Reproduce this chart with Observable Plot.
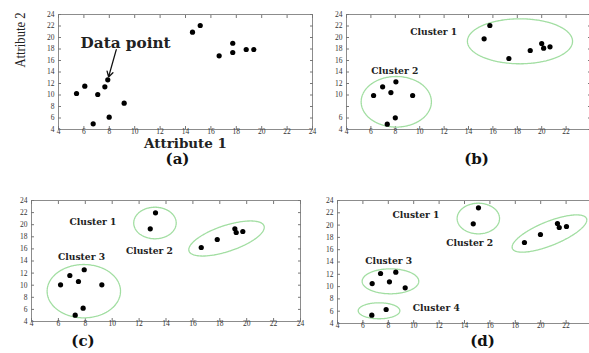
<!DOCTYPE html>
<html><head><meta charset="utf-8">
<script src="https://cdn.jsdelivr.net/npm/d3@7"></script>
<script src="https://cdn.jsdelivr.net/npm/@observablehq/plot@0.6"></script>
<style>
body{margin:0;background:#fff;}
#wrap{position:relative;width:589px;height:353px;overflow:hidden;background:#fff;}
#wrap svg{position:absolute;left:0;top:0;}
</style></head><body><div id="wrap"></div>
<script>
// tick values (both axes)
const ticks = [4, 6, 8, 10, 12, 14, 16, 18, 20, 22, 24];

// Panel (a)
const aX = [5.42, 6.07, 6.73, 7.09, 7.65, 7.88, 7.99, 9.17, 14.55, 15.16, 16.65, 17.72, 17.72, 18.78, 19.38];
const aY = [10.26, 11.53, 4.99, 10.09, 11.43, 12.64, 6.14, 8.57, 20.92, 22.09, 16.82, 19.0, 17.39, 17.91, 17.91];
// Panel (b)
const bX = [15.28, 15.75, 17.31, 19.06, 20.0, 20.16, 20.68, 6.22, 6.96, 7.64, 8.05, 7.34, 8.0, 9.42];
const bY = [19.77, 22.09, 16.35, 17.74, 18.96, 18.14, 18.38, 9.91, 11.43, 10.43, 12.3, 4.92, 6.03, 9.91];
// Panel (c)
const cX = [13.22, 12.83, 16.62, 17.81, 19.12, 19.22, 19.71, 6.16, 6.85, 7.49, 7.92, 9.23, 7.84, 7.25];
const cY = [21.97, 19.32, 16.23, 17.55, 19.32, 18.71, 18.88, 10.07, 11.6, 10.61, 12.55, 10.07, 6.21, 5.04];
// Panel (d)
const dX = [15.1, 14.69, 18.72, 19.98, 21.32, 21.46, 22.03, 6.73, 7.39, 8.09, 8.59, 9.33, 6.7, 7.83];
const dY = [22.81, 20.21, 17.17, 18.47, 20.26, 19.61, 19.77, 10.5, 12.13, 10.78, 12.34, 9.8, 5.35, 6.28];

// cluster outlines: centre and two semi-axis vectors (data units)
const ellB = [
  {cx: 18.22, cy: 19.34, ux: 4.31, uy: 0, vx: 0, vy: 3.91},
  {cx: 8.08, cy: 8.82, ux: 2.88, uy: 0, vx: 0, vy: 4.4}
];
const ellC = [
  {cx: 13.18, cy: 20.28, ux: 1.58, uy: 0, vx: 0, vy: 2.61},
  {cx: 18.5, cy: 17.72, ux: 2.79, uy: 2.07, vx: 0.30, vy: -2.03},
  {cx: 7.89, cy: 9.01, ux: 2.73, uy: 0, vx: 0, vy: 4.41}
];
const ellD = [
  {cx: 15.09, cy: 21.07, ux: 1.67, uy: 0, vx: 0, vy: 2.49},
  {cx: 20.69, cy: 18.63, ux: 2.92, uy: 2.44, vx: 0.354, vy: -1.80},
  {cx: 8.17, cy: 10.86, ux: 2.23, uy: 0, vx: 0, vy: 2.03},
  {cx: 7.27, cy: 6.07, ux: 1.64, uy: 0, vx: 0, vy: 1.3}
];

// cluster labels
const labB = [{t: "Cluster 1", x: 11.15, y: 20.92}, {t: "Cluster 2", x: 7.96, y: 14.14}];
const labC = [{t: "Cluster 1", x: 8.57, y: 20.53}, {t: "Cluster 2", x: 12.77, y: 15.62}, {t: "Cluster 3", x: 7.72, y: 14.63}];
const labD = [{t: "Cluster 1", x: 10.18, y: 21.67}, {t: "Cluster 2", x: 14.41, y: 17.17}, {t: "Cluster 3", x: 8.03, y: 14.13}, {t: "Cluster 4", x: 11.78, y: 6.49}];

// annotation in (a)
const dataPointLabel = [{t: "Data point", x: 9.28, y: 18.9}];
const dataPointArrow = [{x1: 8.55, y1: 17.9, x2: 7.88, y2: 12.64}];

const W = 600, H = 353;
const serif = "'DejaVu Serif', serif";

function ring(ells) {
  return ells.flatMap((e, k) => d3.range(0, 97).map(i => {
    const t = i / 96 * 2 * Math.PI;
    return {k, x: e.cx + e.ux * Math.cos(t) + e.vx * Math.sin(t), y: e.cy + e.uy * Math.cos(t) + e.vy * Math.sin(t)};
  }));
}

function panel({frame: [l, r, t, b], xs, ys, ells = [], labels = [], caption, capDx, capDy, hideY = [], hideX = [], extra = []}) {
  const pts = xs.map((x, i) => ({x, y: ys[i]}));
  return Plot.plot({
    width: W, height: H,
    marginLeft: l, marginRight: W - r, marginTop: t, marginBottom: H - b,
    x: {domain: [4, 24]}, y: {domain: [4, 24]},
    style: {fontFamily: "'Liberation Serif', serif", fontSize: "7.5px", color: "#333", background: "transparent", maxWidth: "none", overflow: "visible"},
    marks: [
      Plot.frame({stroke: "#8c8c8c"}),
      Plot.axisX(ticks, {anchor: "bottom", label: null, tickSize: -3, tickPadding: 2, stroke: "#777", fill: "#333", tickFormat: d => hideX.includes(d) ? "" : String(d)}),
      Plot.axisX(ticks, {anchor: "top", label: null, tickSize: -3, tickFormat: () => "", stroke: "#777"}),
      Plot.axisY(ticks, {anchor: "left", label: null, tickSize: -3, tickPadding: 7, stroke: "#777", fill: "#333", tickFormat: d => hideY.includes(d) ? "" : String(d)}),
      Plot.axisY(ticks, {anchor: "right", label: null, tickSize: -3, tickFormat: () => "", stroke: "#777"}),
      Plot.line(ring(ells), {x: "x", y: "y", z: "k", stroke: "#a2dea2", strokeWidth: 1.3, strokeDasharray: "1.6 0.7"}),
      Plot.dot(pts, {x: "x", y: "y", r: 2.6, fill: "#000"}),
      Plot.text(labels, {x: "x", y: "y", text: "t", fontFamily: serif, fontWeight: "bold", fontSize: 9.5, fill: "#222"}),
      Plot.text([caption], {frameAnchor: "bottom", dx: capDx, dy: capDy, fontFamily: serif, fontWeight: "bold", fontSize: 15, fill: "#111"}),
      ...extra
    ]
  });
}

const panels = [
  panel({frame: [58, 312, 14, 129], xs: aX, ys: aY, caption: "(a)", capDx: -8, capDy: 34, extra: [
    Plot.arrow(dataPointArrow, {x1: "x1", y1: "y1", x2: "x2", y2: "y2", stroke: "#111", strokeWidth: 1.3, headLength: 7, insetEnd: 3}),
    Plot.text(dataPointLabel, {x: "x", y: "y", text: "t", fontFamily: serif, fontWeight: "bold", fontSize: 14, fill: "#222"}),
    Plot.text(["Attribute 1"], {frameAnchor: "bottom", dy: 18.5, fontFamily: serif, fontWeight: "bold", fontSize: 12.5, fill: "#222"}),
    Plot.text(["Attribute 2"], {frameAnchor: "left", rotate: -90, dx: -38, dy: -4.5, fontFamily: "'Liberation Serif', serif", fontSize: 15, fill: "#222"})
  ]}),
  panel({frame: [346, 590, 14, 129], xs: bX, ys: bY, ells: ellB, labels: labB, caption: "(b)", capDx: 8, capDy: 34, hideY: [8], hideX: [24]}),
  panel({frame: [31, 300, 200, 321], xs: cX, ys: cY, ells: ellC, labels: labC, caption: "(c)", capDx: -83, capDy: 24}),
  panel({frame: [337, 591, 200, 323], xs: dX, ys: dY, ells: ellD, labels: labD, caption: "(d)", capDx: 18, capDy: 22, hideX: [24]})
];

const fit = {"Attribute 2": 55, "Attribute 1": 83, "Data point": 90, "Cluster 1": 47, "Cluster 2": 47, "Cluster 3": 47, "Cluster 4": 47};
const wrap = document.getElementById("wrap");
for (const svg of panels) {
  wrap.appendChild(svg);
  svg.querySelectorAll("text").forEach(el => {
    const L = fit[el.textContent];
    if (L) { el.setAttribute("textLength", L); el.setAttribute("lengthAdjust", "spacingAndGlyphs"); }
  });
}
</script>
</body></html>
